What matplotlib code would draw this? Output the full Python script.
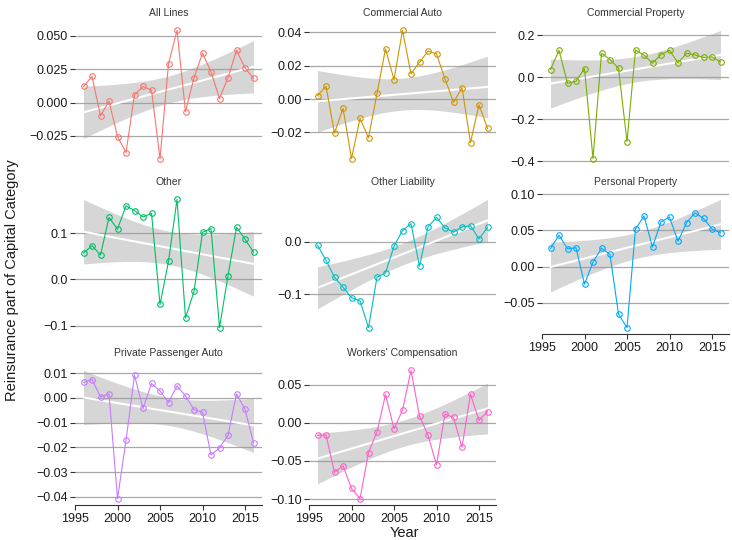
import numpy as np
import matplotlib
matplotlib.use('Agg')
import matplotlib.pyplot as plt

plt.rcParams['font.family'] = ['Liberation Sans', 'DejaVu Sans']

# Yearly values per line of business
years = np.arange(1996, 2017)

all_lines = [0.012, 0.0195, -0.010, 0.001, -0.0255, -0.0375, 0.0058, 0.012, 0.0093, -0.042, 0.029,
             0.054, -0.0068, 0.0185, 0.037, 0.023, 0.003, 0.0185, 0.039, 0.026, 0.018]
commercial_auto = [0.002, 0.0076, -0.0204, -0.0056, -0.0356, -0.0116, -0.0232, 0.0034, 0.030, 0.0116, 0.041,
                   0.015, 0.022, 0.0286, 0.027, 0.012, -0.002, 0.0068, -0.026, -0.0034, -0.0176]
commercial_property = [0.0365, 0.128, -0.029, -0.019, 0.041, -0.387, 0.114, 0.084, 0.043, -0.306, 0.130,
                       0.105, 0.067, 0.108, 0.128, 0.068, 0.114, 0.106, 0.094, 0.097, 0.073]
other = [0.057, 0.073, 0.053, 0.134, 0.109, 0.159, 0.149, 0.135, 0.143, -0.054, 0.039,
         0.173, -0.083, -0.026, 0.102, 0.110, -0.104, 0.008, 0.113, 0.087, 0.059]
other_liability = [-0.007, -0.036, -0.068, -0.087, -0.107, -0.113, -0.164, -0.068, -0.060, -0.009, 0.021,
                   0.034, -0.047, 0.028, 0.046, 0.026, 0.018, 0.028, 0.030, 0.005, 0.027]
personal_property = [0.025, 0.0435, 0.0245, 0.026, -0.0245, 0.006, 0.0255, 0.0167, -0.066, -0.0847, 0.052,
                     0.070, 0.027, 0.062, 0.0685, 0.035, 0.0606, 0.0745, 0.0667, 0.052, 0.0468]
private_passenger_auto = [0.0062, 0.0074, 0.0004, 0.0016, -0.0407, -0.0172, 0.0091, -0.0043, 0.0058, 0.0028, -0.0019,
                          0.0048, 0.0008, -0.0048, -0.0058, -0.0231, -0.0202, -0.0152, 0.0016, -0.0046, -0.0181]
workers_comp = [-0.0165, -0.016, -0.065, -0.0564, -0.086, -0.0993, -0.039, -0.012, 0.037, -0.008, 0.0165,
                0.0685, 0.0087, -0.0165, -0.055, 0.0113, 0.0069, -0.032, 0.0373, 0.003, 0.0147]

titles = ['All Lines', 'Commercial Auto', 'Commercial Property', 'Other', 'Other Liability',
          'Personal Property', 'Private Passenger Auto', "Workers' Compensation"]
series = [all_lines, commercial_auto, commercial_property, other, other_liability,
          personal_property, private_passenger_auto, workers_comp]
y_ticks = [[0.050, 0.025, 0.0, -0.025],
           [0.04, 0.02, 0.0, -0.02],
           [0.2, 0.0, -0.2, -0.4],
           [0.1, 0.0, -0.1],
           [0.0, -0.1],
           [0.10, 0.05, 0.0, -0.05],
           [0.01, 0.0, -0.01, -0.02, -0.03, -0.04],
           [0.05, 0.0, -0.05, -0.10]]
y_decimals = [3, 2, 1, 1, 1, 2, 2, 2]
x_ticks = [1995, 2000, 2005, 2010, 2015]

colors = ['#F8766D', '#CD9600', '#7CAE00', '#00BE67', '#00BFC4', '#00A9FF', '#C77CFF', '#FF61CC']

W, H = 732, 540
col_left = [75, 309, 542]
row_top = [24, 193, 364]
pw, ph = 187, 141
T_975 = 2.093  # t quantile, 19 degrees of freedom

fig = plt.figure(figsize=(W / 100, H / 100), dpi=100)

for i, (title, vals) in enumerate(zip(titles, series)):
    r, c = divmod(i, 3)
    ax = fig.add_axes([col_left[c] / W, 1 - (row_top[r] + ph) / H, pw / W, ph / H])
    y = np.asarray(vals)

    # linear fit with 95% confidence band
    slope, intercept = np.polyfit(years, y, 1)
    resid = y - (slope * years + intercept)
    n = len(y)
    s = np.sqrt(np.sum(resid ** 2) / (n - 2))
    xg = np.linspace(years[0], years[-1], 100)
    fit = slope * xg + intercept
    se = s * np.sqrt(1 / n + (xg - years.mean()) ** 2 / np.sum((years - years.mean()) ** 2))
    lo, hi = fit - T_975 * se, fit + T_975 * se

    ax.fill_between(xg, lo, hi, color='#999999', alpha=0.4, lw=0, zorder=1)
    ax.plot(xg, fit, color='white', lw=1.5, zorder=2)
    ax.plot(years, y, color=colors[i], lw=0.8, marker='o', ms=4, mfc='none',
            mec=colors[i], mew=0.8, zorder=3)

    ymin = min(y.min(), lo.min())
    ymax = max(y.max(), hi.max())
    pad = 0.05 * (ymax - ymin)
    ax.set_ylim(ymin - pad, ymax + pad)
    ax.set_xlim(1995, 2017)

    ax.set_yticks(y_ticks[i])
    ax.set_yticklabels([f'{v:.{y_decimals[i]}f}'.replace('-', '\u2212') for v in y_ticks[i]])
    ax.yaxis.grid(True, color='#a8a8a8', lw=0.9)
    ax.set_axisbelow(True)
    ax.tick_params(axis='y', length=3.5, width=0.8, color='#333333', pad=1.5,
                   labelsize=9, labelcolor='#1a1a1a')

    for side in ['top', 'right', 'left']:
        ax.spines[side].set_visible(False)

    if i in (5, 6, 7):
        ax.spines['bottom'].set_color('#333333')
        ax.spines['bottom'].set_linewidth(0.8)
        ax.set_xticks(x_ticks)
        ax.tick_params(axis='x', length=3.5, width=0.8, color='#333333', pad=2,
                       labelsize=9, labelcolor='#1a1a1a')
    else:
        ax.spines['bottom'].set_visible(False)
        ax.tick_params(axis='x', bottom=False, labelbottom=False)

    ax.annotate(title, xy=(0.5, 1), xycoords='axes fraction', xytext=(0, 8),
                textcoords='offset points', ha='center', va='center',
                fontsize=7.5, color='#333333')

fig.text(404 / W, 1 - 533 / H, 'Year', ha='center', va='center', fontsize=10.5, color='#1a1a1a')
fig.text(12 / W, 1 - 280 / H, 'Reinsurance part of Capital Category', ha='center', va='center',
         rotation=90, fontsize=10.5, color='#1a1a1a')

fig.savefig('out.png', dpi=100)
